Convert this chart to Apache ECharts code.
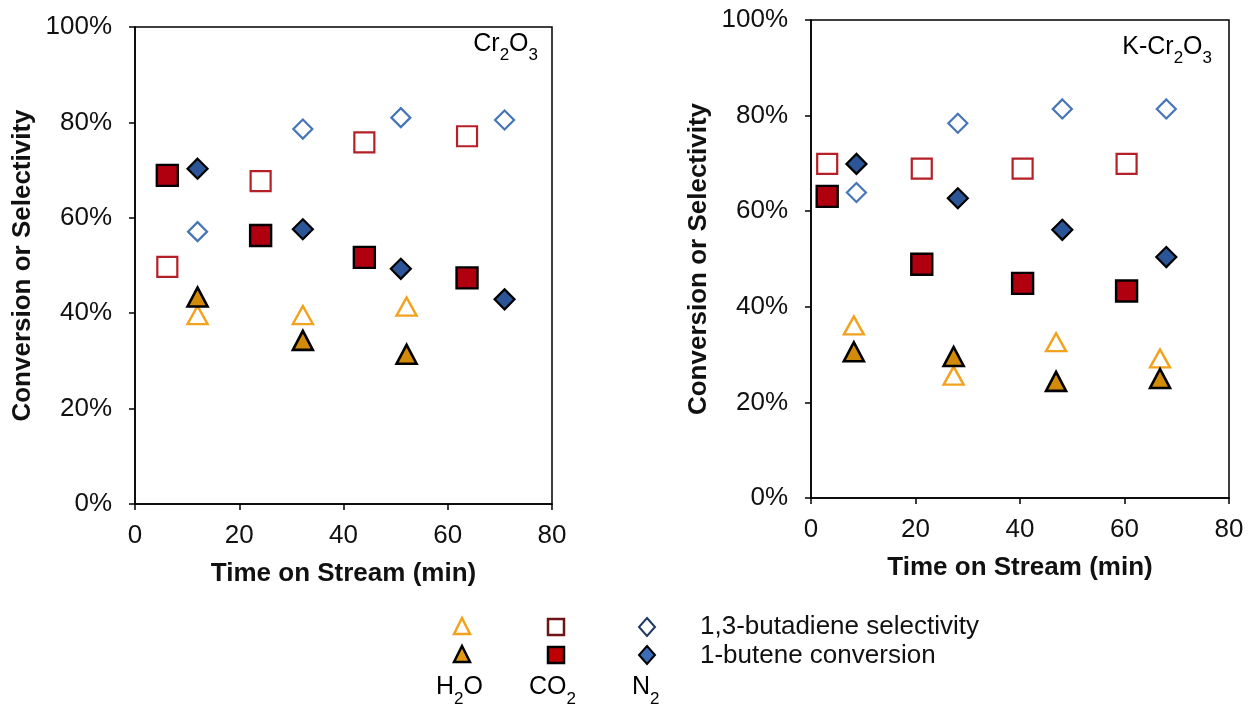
<!DOCTYPE html>
<html><head><meta charset="utf-8">
<script src="https://cdn.jsdelivr.net/npm/echarts@6/dist/echarts.min.js"></script>
<style>html,body{margin:0;padding:0;background:#fff}#c{width:1249px;height:711px}</style>
</head><body><div id="c"></div>
<script>
// Tick labels
const xTicks = [0, 20, 40, 60, 80];
const yTicks = [0, 20, 40, 60, 80, 100];
// Cr2O3 panel: [time (min), %]
const crH2OSel  = [[12.0,39.6],[32.2,39.6],[52.1,41.4]];
const crH2OConv = [[12.0,43.4],[32.2,34.3],[52.1,31.4]];
const crCO2Sel  = [[6.2,49.7],[24.1,67.7],[44.0,75.8],[63.7,77.1]];
const crCO2Conv = [[6.2,68.9],[24.1,56.3],[44.0,51.7],[63.7,47.4]];
const crN2Sel   = [[12.0,57.1],[32.2,78.6],[51.0,81.0],[70.9,80.5]];
const crN2Conv  = [[12.0,70.3],[32.2,57.6],[51.0,49.3],[70.9,42.9]];
// K-Cr2O3 panel
const kH2OSel  = [[8.2,36.1],[27.3,25.6],[46.9,32.6],[66.8,29.2]];
const kH2OConv = [[8.2,30.6],[27.3,29.6],[46.9,24.4],[66.8,25.0]];
const kCO2Sel  = [[3.1,69.9],[21.2,68.9],[40.5,68.9],[60.4,69.9]];
const kCO2Conv = [[3.1,63.1],[21.2,48.9],[40.5,44.9],[60.4,43.3]];
const kN2Sel   = [[8.7,63.9],[28.1,78.4],[48.1,81.4],[68.0,81.4]];
const kN2Conv  = [[8.7,69.9],[28.1,62.7],[48.1,56.1],[68.0,50.4]];

const FONT = 'Liberation Sans, Arial, sans-serif';
const C = {
  triOpen: '#F2A21C', triFill: '#D18B08',
  sqOpen: '#B51F26', sqFill: '#B00010',
  diaOpen: '#4675B8', diaFill: '#2C5597'
};
const styles = {
  h2oSel:  {symbol:'triangle', symbolSize:[20,18], itemStyle:{color:'#fff', borderColor:C.triOpen, borderWidth:2.4, opacity:1}},
  h2oConv: {symbol:'triangle', symbolSize:[20,19], itemStyle:{color:C.triFill, borderColor:'#000', borderWidth:2.6, opacity:1}},
  co2Sel:  {symbol:'rect', symbolSize:20, itemStyle:{color:'#fff', borderColor:C.sqOpen, borderWidth:2.2, opacity:1}},
  co2Conv: {symbol:'rect', symbolSize:21, itemStyle:{color:C.sqFill, borderColor:'#000', borderWidth:2.4, opacity:1}},
  n2Sel:   {symbol:'diamond', symbolSize:[19,19], itemStyle:{color:'#fff', borderColor:C.diaOpen, borderWidth:2.2, opacity:1}},
  n2Conv:  {symbol:'diamond', symbolSize:[20,20], itemStyle:{color:C.diaFill, borderColor:'#000', borderWidth:2.2, opacity:1}}
};
function mk(name, data, st, idx){
  return Object.assign({type:'scatter', name, data, xAxisIndex:idx, yAxisIndex:idx, z:3}, JSON.parse(JSON.stringify(st)));
}
function xAx(idx){
  return {gridIndex:idx, type:'value', min:0, max:80, interval:20,
    axisLine:{show:true, onZero:false, lineStyle:{color:'#000', width:1.5}},
    axisTick:{show:true, length:6, lineStyle:{color:'#000', width:1.5}},
    splitLine:{show:false},
    axisLabel:{fontFamily:FONT, fontSize:26, color:'#111', margin:19},
    name:'Time on Stream (min)', nameLocation:'middle', nameGap:57,
    nameTextStyle:{fontFamily:FONT, fontSize:26, fontWeight:'bold', color:'#111'}};
}
function yAx(idx){
  return {gridIndex:idx, type:'value', min:0, max:100, interval:20,
    axisLine:{show:true, lineStyle:{color:'#000', width:1.5}},
    axisTick:{show:true, length:6, lineStyle:{color:'#000', width:1.5}},
    splitLine:{show:false},
    axisLabel:{fontFamily:FONT, fontSize:26, color:'#111', margin:23, formatter:'{value}%'},
    name:'Conversion or Selectivity', nameLocation:'middle', nameGap:99,
    nameTextStyle:{fontFamily:FONT, fontSize:26, fontWeight:'bold', color:'#111'}};
}
const subRich = {
  n:{fontFamily:FONT, fontSize:25, color:'#111', lineHeight:27, verticalAlign:'bottom'},
  s:{fontFamily:FONT, fontSize:17, color:'#111', lineHeight:18, verticalAlign:'bottom', padding:[0,0,-7,0]}
};
function legTri(x,y,fill,stroke){return {type:'polygon', shape:{points:[[x,y-9],[x+8,y+7],[x-8,y+7]]}, style:{fill, stroke, lineWidth:2.5}};}
function legSq(x,y,fill,stroke){return {type:'rect', shape:{x:x-8,y:y-8,width:16,height:16}, style:{fill, stroke, lineWidth:2.5}};}
function legDia(x,y,fill,stroke){return {type:'polygon', shape:{points:[[x,y-9],[x+8,y],[x,y+9],[x-8,y]]}, style:{fill, stroke, lineWidth:2}};}
const legRich = {
  n:{fontFamily:FONT, fontSize:25, color:'#111', lineHeight:28, verticalAlign:'bottom'},
  s:{fontFamily:FONT, fontSize:17, color:'#111', lineHeight:18, verticalAlign:'bottom', padding:[0,0,-8,0]}
};
const option = {
  backgroundColor:'#fff',
  animation:false,
  grid:[
    {left:135, top:27, width:417, height:477, show:true, borderColor:'#000', borderWidth:1.5, backgroundColor:'transparent'},
    {left:811, top:20, width:418, height:478, show:true, borderColor:'#000', borderWidth:1.5, backgroundColor:'transparent'}
  ],
  xAxis:[xAx(0), xAx(1)],
  yAxis:[yAx(0), yAx(1)],
  series:[
    mk('Cr2O3 H2O selectivity', crH2OSel, styles.h2oSel, 0),
    mk('Cr2O3 H2O conversion', crH2OConv, styles.h2oConv, 0),
    mk('Cr2O3 CO2 selectivity', crCO2Sel, styles.co2Sel, 0),
    mk('Cr2O3 CO2 conversion', crCO2Conv, styles.co2Conv, 0),
    mk('Cr2O3 N2 selectivity', crN2Sel, styles.n2Sel, 0),
    mk('Cr2O3 N2 conversion', crN2Conv, styles.n2Conv, 0),
    mk('K-Cr2O3 H2O selectivity', kH2OSel, styles.h2oSel, 1),
    mk('K-Cr2O3 H2O conversion', kH2OConv, styles.h2oConv, 1),
    mk('K-Cr2O3 CO2 selectivity', kCO2Sel, styles.co2Sel, 1),
    mk('K-Cr2O3 CO2 conversion', kCO2Conv, styles.co2Conv, 1),
    mk('K-Cr2O3 N2 selectivity', kN2Sel, styles.n2Sel, 1),
    mk('K-Cr2O3 N2 conversion', kN2Conv, styles.n2Conv, 1)
  ],
  graphic:[
    {type:'text', right:1249-538, top:32, style:{text:'{n|Cr}{s|2}{n|O}{s|3}', rich:subRich}},
    {type:'text', right:1249-1212, top:35, style:{text:'{n|K-Cr}{s|2}{n|O}{s|3}', rich:subRich}},
    legTri(462,627,'#fff',C.triOpen),
    legSq(556,627,'#fff','#6E1414'),
    legDia(647,627,'#fff','#1F3864'),
    legTri(462,655,'#E49A10','#000'),
    legSq(556,655,'#C00000','#000'),
    legDia(647,655,'#3B6CB7','#000'),
    {type:'text', left:700, top:614, style:{text:'1,3-butadiene selectivity', fontFamily:FONT, fontSize:26, fill:'#111'}},
    {type:'text', left:700, top:643, style:{text:'1-butene conversion', fontFamily:FONT, fontSize:26, fill:'#111'}},
    {type:'text', left:436, top:675, style:{text:'{n|H}{s|2}{n|O}', rich:legRich}},
    {type:'text', left:529, top:675, style:{text:'{n|CO}{s|2}', rich:legRich}},
    {type:'text', left:632, top:675, style:{text:'{n|N}{s|2}', rich:legRich}}
  ]
};
const chart = echarts.init(document.getElementById('c'), null, {renderer:'canvas'});
chart.setOption(option);
</script></body></html>
